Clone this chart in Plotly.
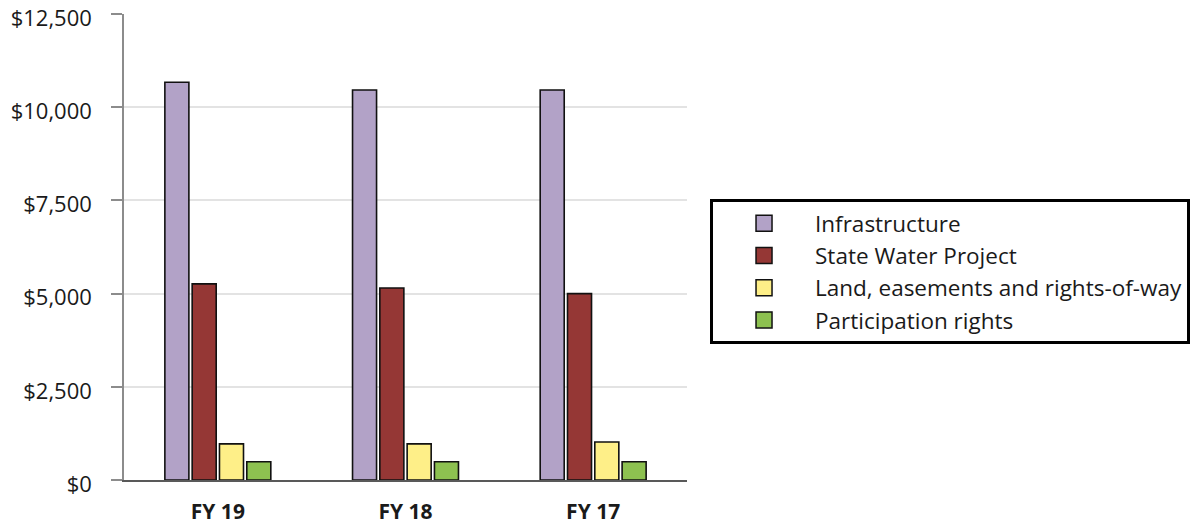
import plotly.graph_objects as go

categories = ["FY 19", "FY 18", "FY 17"]
series_names = ["Infrastructure", "State Water Project",
                "Land, easements and rights-of-way", "Participation rights"]
infrastructure = [10670, 10460, 10460]
state_water_project = [5260, 5150, 5000]
land_easements = [970, 970, 1020]
participation_rights = [490, 490, 490]
y_tick_values = [0, 2500, 5000, 7500, 10000, 12500]
y_tick_labels = ["$0", "$2,500", "$5,000", "$7,500", "$10,000", "$12,500"]

values = [infrastructure, state_water_project, land_easements, participation_rights]
colors = ["#B2A2C7", "#953735", "#FEEF88", "#8DC150"]

FONT = "Open Sans"

fig = go.Figure()
for name, vals, col in zip(series_names, values, colors):
    fig.add_trace(go.Bar(
        x=categories, y=vals, name=name, legendgroup=name, showlegend=False,
        marker=dict(color=col, line=dict(color="#111111", width=1.6)),
    ))
# legend proxies (larger square swatches)
for name, col in zip(series_names, colors):
    fig.add_trace(go.Scatter(
        x=[None], y=[None], mode="markers", name=name, legendgroup=name,
        marker=dict(symbol="square", size=16, color=col,
                    line=dict(color="#111111", width=1.5)),
        hoverinfo="skip",
    ))

fig.update_layout(
    width=1200, height=528,
    margin=dict(l=124, r=513, t=14, b=48, autoexpand=False),
    paper_bgcolor="white", plot_bgcolor="white",
    barmode="group", bargap=0.418, bargroupgap=0.12,
    font=dict(family=FONT, size=21, color="#1a1a1a"),
    showlegend=True,
    legend=dict(
        x=1.0409, xanchor="left", y=0.603, yanchor="top",
        bordercolor="#000000", borderwidth=3, bgcolor="white",
        font=dict(family=FONT, size=22.5, color="#1a1a1a"),
        itemwidth=92, itemsizing="trace", tracegroupgap=0,
        entrywidth=423,
    ),
)
fig.update_xaxes(
    type="category", showgrid=False, showline=True, linecolor="#595959", linewidth=2,
    ticks="", ticklabelstandoff=12, automargin=False,
    tickfont=dict(family=FONT, size=21, color="#1a1a1a", weight="bold"),
)
fig.update_yaxes(
    range=[0, 12500], tickmode="array", tickvals=y_tick_values, ticktext=y_tick_labels,
    showgrid=True, gridcolor="#E3E3E3", gridwidth=1.5,
    showline=True, linecolor="#8C8C8C", linewidth=1.5,
    ticks="outside", ticklen=11, tickcolor="#8C8C8C", tickwidth=1.5,
    ticklabelstandoff=15, ticklabelshift=4, zeroline=False, automargin=False,
    ticklabeloverflow="allow",
    tickfont=dict(family=FONT, size=22, color="#1a1a1a"),
)

fig.write_html("out.html",
               config={"displayModeBar": False},
               post_script="document.body.style.margin='0';document.body.style.padding='0';")
